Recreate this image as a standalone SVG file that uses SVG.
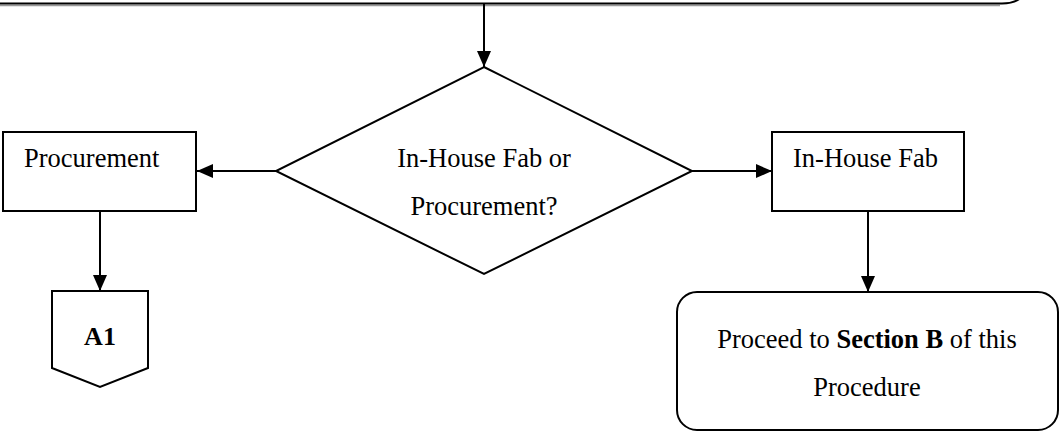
<svg xmlns="http://www.w3.org/2000/svg" width="1060" height="434" viewBox="0 0 1060 434">
<style>
.s{fill:#fff;stroke:#000;stroke-width:2}
.t{font-family:"Liberation Serif","Times New Roman",serif;font-size:26.5px;fill:#000}
.c{fill:none;stroke:#000;stroke-width:2}
</style>
<defs>
<marker id="ah" markerWidth="16" markerHeight="14" refX="16" refY="7" orient="auto" markerUnits="userSpaceOnUse">
<path d="M0,0 L16,7 L0,14 Z" fill="#000"/>
</marker>
</defs>
<rect width="1060" height="434" fill="#fff"/>
<g id="start">
<path d="M -10 5.5 L 1000 5.5" stroke="#999" stroke-width="1.5" fill="none"/>
<path d="M -10 3.5 L 1002 3.5 Q 1018 3.5 1024 -6" class="c"/>
</g>
<g id="decision">
<polygon points="484,67 692,171 484,274 276,171" class="s"/>
<text class="t" x="484" y="167" text-anchor="middle">In-House Fab or</text>
<text class="t" x="484" y="215" text-anchor="middle">Procurement?</text>
</g>
<g id="procurement">
<rect x="3" y="132" width="193" height="79" class="s"/>
<text class="t" x="24" y="167">Procurement</text>
</g>
<g id="inhouse">
<rect x="772" y="132" width="192" height="79" class="s"/>
<text class="t" x="793" y="167">In-House Fab</text>
</g>
<g id="a1">
<polygon points="52,291 148,291 148,368 100,387 52,368" class="s"/>
<text x="100" y="345" text-anchor="middle" style="font-family:'Liberation Serif','Times New Roman',serif;font-size:26px;font-weight:bold">A1</text>
</g>
<g id="sectionB">
<rect x="677" y="292" width="381" height="138" rx="20" ry="20" class="s"/>
<text class="t" x="867" y="348" text-anchor="middle">Proceed to <tspan font-weight="bold">Section B</tspan> of this</text>
<text class="t" x="867" y="396" text-anchor="middle">Procedure</text>
</g>
<g id="connectors">
<line x1="484" y1="4" x2="484" y2="67" class="c" marker-end="url(#ah)"/>
<line x1="276" y1="171" x2="197" y2="171" class="c" marker-end="url(#ah)"/>
<line x1="692" y1="171" x2="772" y2="171" class="c" marker-end="url(#ah)"/>
<line x1="100" y1="211" x2="100" y2="291" class="c" marker-end="url(#ah)"/>
<line x1="868" y1="211" x2="868" y2="292" class="c" marker-end="url(#ah)"/>
</g>
</svg>
